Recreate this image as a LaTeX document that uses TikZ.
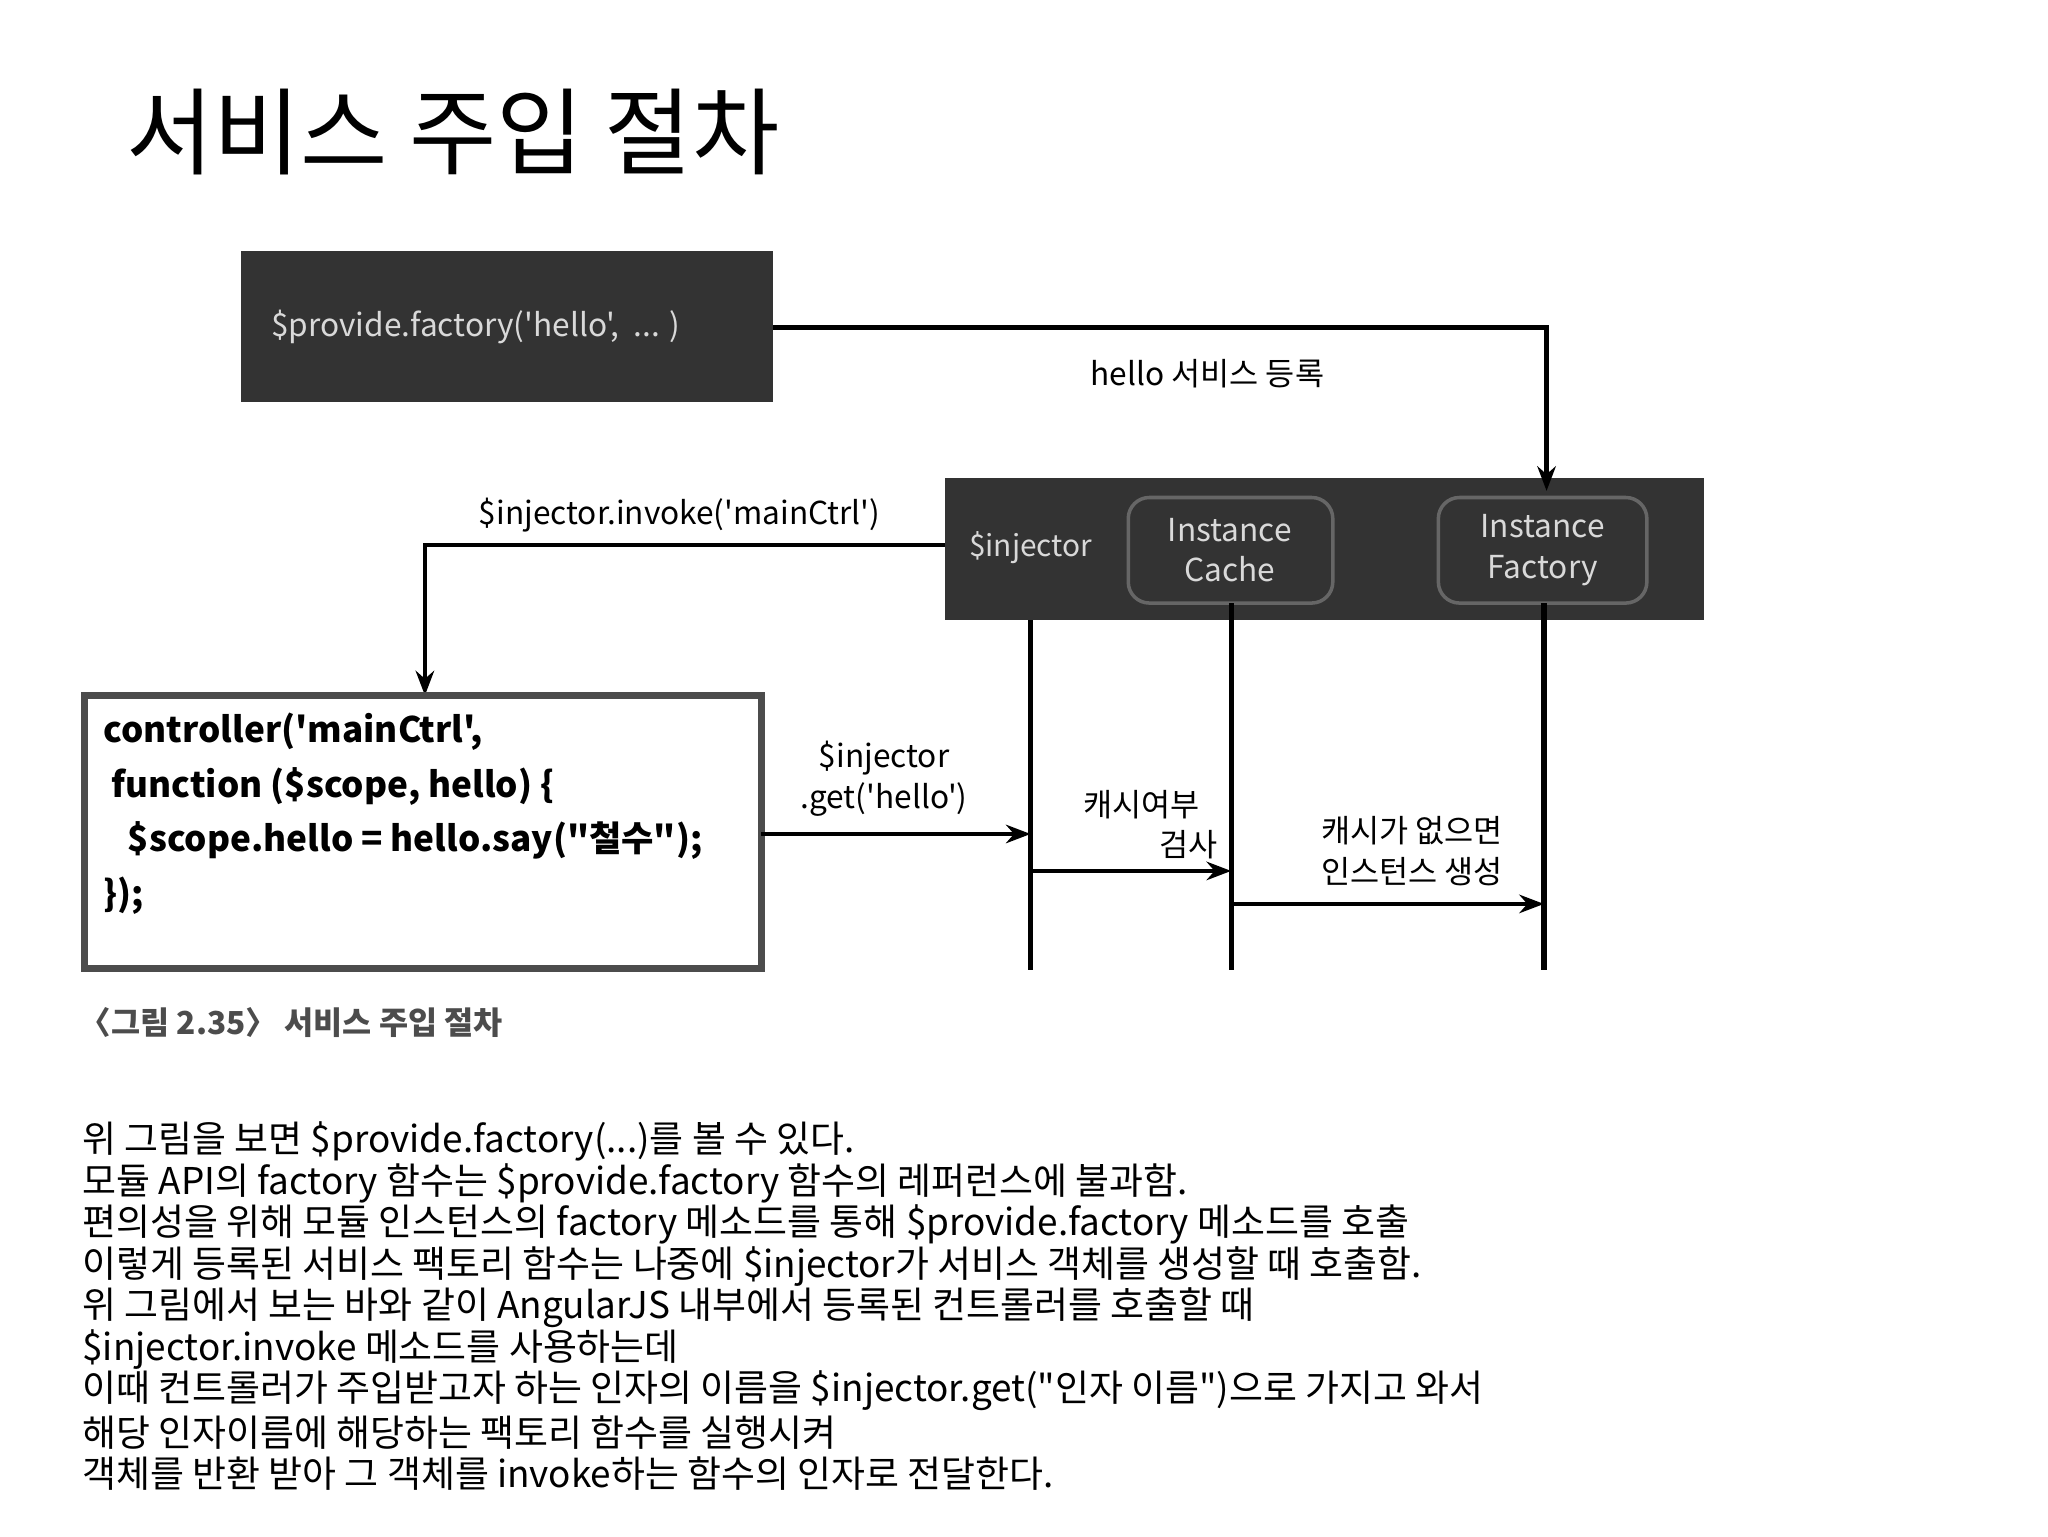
\documentclass[tikz,border=0pt]{standalone}
\usepackage{fontspec}
\setmainfont{Noto Sans CJK KR}[Ligatures=TeXOff]
\usetikzlibrary{arrows.meta}
\newcommand{\sq}{'}
\newcommand{\dq}{"}
\begin{document}
\begin{tikzpicture}[x=0.013196cm,y=-0.013196cm,
  ibox/.style={black!60,line width=1pt,rounded corners=6pt,fill=black!80},
  conn/.style={line width=1.3pt,-{Stealth[length=7pt]}},
  life/.style={line width=1.5pt},
  lbl/.style={font=\fontsize{9}{11.5}\selectfont,align=center},
  body/.style={anchor=west,inner sep=0pt,font=\fontsize{10.5}{12}\selectfont}]
\useasboundingbox (0,0) rectangle (1552,1164);
\node[anchor=west,inner sep=0pt,font=\fontsize{27}{32}\selectfont] (title) at (95,100) {서비스 주입 절차};
% box 1
\fill[black!80] (183,190) rectangle (586,305);
\coordinate (b1e) at (586,248);
\node[anchor=west,text=white!85!black,font=\fontsize{9}{12}\selectfont,inner sep=0pt] (b1t) at (205,248) {\$provide.factory(\sq hello\sq, \ ... )};
% box 2
\fill[black!80] (716,362) rectangle (1291,470);
\coordinate (b2w) at (716,413);
\node[text=white!85!black,font=\fontsize{8.5}{12}\selectfont] (inj) at (781,415) {\$injector};
\draw[ibox] (855,377) rectangle (1010,457);
\node[lbl,text=white!85!black] (cachet) at (932,417) {Instance\\Cache};
\draw[ibox] (1090,377) rectangle (1248,457);
\node[lbl,text=white!85!black] (fact) at (1169,417) {Instance\\Factory};
% top connector
\coordinate (ftop) at (1172,372);
\draw[conn] (b1e) -| (ftop);
\node[lbl] (reg) at (915,283) {hello 서비스 등록};
% invoke connector
\coordinate (ctop) at (322,527);
\draw[conn] (b2w) -| (ctop);
\node[lbl] (invl) at (515,390) {\$injector.invoke(\sq mainCtrl\sq)};
% controller box
\draw[black!70,line width=2pt,fill=white] (64,527) rectangle (577,734);
\node[anchor=north west,align=left,inner sep=0pt,font=\bfseries\fontsize{10}{15.5}\selectfont] (code) at (78,540)
 {controller(\sq mainCtrl\sq,\\\ function (\$scope, hello) \{\\\ \ \ \$scope.hello = hello.say(\dq 철수\dq);\\\});};
% lifelines
\coordinate (l1t) at (781,470); \coordinate (l1b) at (781,735);
\coordinate (l2t) at (933,457); \coordinate (l2b) at (933,735);
\coordinate (l3t) at (1170,457); \coordinate (l3b) at (1170,735);
\draw[life] (l1t) -- (l1b);
\draw[life] (l2t) -- (l2b);
\draw[life] (l3t) -- (l3b);
\coordinate (a1s) at (577,632); \coordinate (a1e) at (781,632);
\coordinate (a2s) at (781,660); \coordinate (a2e) at (933,660);
\coordinate (a3s) at (933,685); \coordinate (a3e) at (1170,685);
\draw[conn] (a1s) -- (a1e);
\draw[conn] (a2s) -- (a2e);
\draw[conn] (a3s) -- (a3e);
\node[lbl] (g1) at (670,590) {\$injector\\.get(\sq hello\sq)};
\node[lbl] (g2) at (865,625) {캐시여부\\\hspace*{3em}검사};
\node[lbl] (g3) at (1070,645) {캐시가 없으면\\인스턴스 생성};
\node[body,text=black!70,font=\bfseries\fontsize{9}{12}\selectfont] (cap) at (60,775) {〈그림 2.35〉 서비스 주입 절차};
% body text
\node[body] (t1) at (62,865) {위 그림을 보면 \$provide.factory(...)를 볼 수 있다.};
\node[body] (t2) at (62,896.5) {모듈 API의 factory 함수는 \$provide.factory 함수의 레퍼런스에 불과함.};
\node[body] (t3) at (62,928) {편의성을 위해 모듈 인스턴스의 factory 메소드를 통해 \$provide.factory 메소드를 호출};
\node[body] (t4) at (62,959.5) {이렇게 등록된 서비스 팩토리 함수는 나중에 \$injector가 서비스 객체를 생성할 때 호출함.};
\node[body] (t5) at (62,991) {위 그림에서 보는 바와 같이 AngularJS 내부에서 등록된 컨트롤러를 호출할 때};
\node[body] (t6) at (62,1022.5) {\$injector.invoke 메소드를 사용하는데};
\node[body] (t7) at (62,1054) {이때 컨트롤러가 주입받고자 하는 인자의 이름을 \$injector.get(\dq 인자 이름\dq)으로 가지고 와서};
\node[body] (t8) at (62,1085.5) {해당 인자이름에 해당하는 팩토리 함수를 실행시켜};
\node[body] (t9) at (62,1117) {객체를 반환 받아 그 객체를 invoke하는 함수의 인자로 전달한다.};
\end{tikzpicture}
\end{document}
